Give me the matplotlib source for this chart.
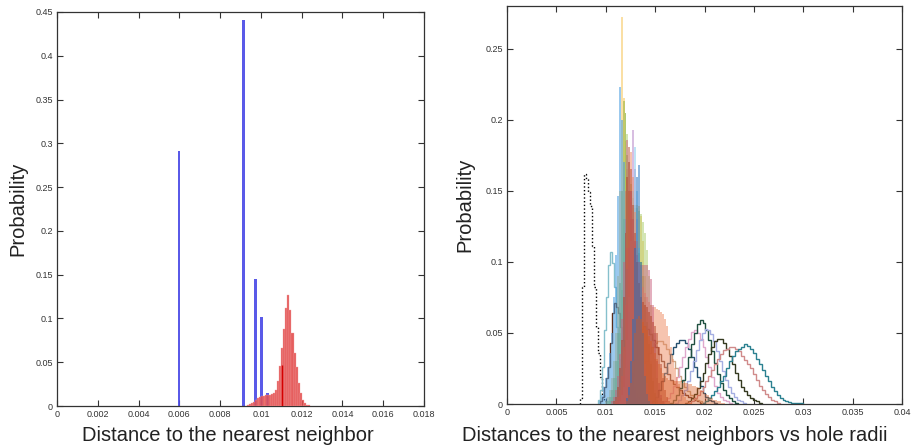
import numpy as np
import matplotlib
matplotlib.use("Agg")
import matplotlib.pyplot as plt

plt.rcParams['font.family'] = ['Liberation Sans', 'DejaVu Sans']

# ---------------- left panel: single configuration ----------------
left_xticks = [0, 0.002, 0.004, 0.006, 0.008, 0.01, 0.012, 0.014, 0.016, 0.018]
left_xticklabels = ["0", "0.002", "0.004", "0.006", "0.008", "0.01", "0.012", "0.014", "0.016", "0.018"]
left_yticks = [0, 0.05, 0.1, 0.15, 0.2, 0.25, 0.3, 0.35, 0.4, 0.45]
left_yticklabels = ["0", "0.05", "0.1", "0.15", "0.2", "0.25", "0.3", "0.35", "0.4", "0.45"]

# lattice distances (discrete)
lattice_dist = [0.0060, 0.00915, 0.00973, 0.01003, 0.01032]
lattice_prob = [0.291, 0.441, 0.145, 0.102, 0.0145]

# perturbed distances, histogram with bin width 1e-4 starting at 0.0093
perturbed_start = 0.0093
perturbed_width = 0.0001
perturbed_prob = [0.001, 0.002, 0.003, 0.005, 0.007, 0.009, 0.010, 0.011, 0.0115, 0.012,
                  0.0125, 0.013, 0.014, 0.015, 0.018, 0.028, 0.046, 0.066, 0.088, 0.112,
                  0.127, 0.110, 0.083, 0.060, 0.045, 0.026, 0.0145, 0.007, 0.003, 0.0015,
                  0.0008]
perturbed_mean = 0.01102
perturbed_mean_height = 0.047

# ---------------- right panel: distances vs hole radii ----------------
right_xticks = [0, 0.005, 0.01, 0.015, 0.02, 0.025, 0.03, 0.035, 0.04]
right_xticklabels = ["0", "0.005", "0.01", "0.015", "0.02", "0.025", "0.03", "0.035", "0.04"]
right_yticks = [0, 0.05, 0.1, 0.15, 0.2, 0.25]
right_yticklabels = ["0", "0.05", "0.1", "0.15", "0.2", "0.25"]

# filled histograms, bin width 2e-4: (start edge, probabilities)
fill_width = 0.0002
fill_orange_start = 0.0121
fill_orange = [0.002, 0.006, 0.015, 0.030, 0.050, 0.060, 0.062, 0.060, 0.058, 0.055,
               0.052, 0.048, 0.044, 0.040, 0.036, 0.032, 0.028, 0.025, 0.022, 0.020,
               0.018, 0.017, 0.016, 0.016, 0.016, 0.016, 0.016, 0.016, 0.015, 0.015,
               0.015, 0.014, 0.014, 0.013, 0.013, 0.012, 0.011, 0.010, 0.009, 0.008,
               0.007, 0.006, 0.005, 0.004, 0.003, 0.003, 0.002, 0.002, 0.001, 0.001]
fill_salmon_start = 0.0109
fill_salmon = [0.002, 0.005, 0.010, 0.020, 0.040, 0.070, 0.110, 0.150, 0.177, 0.160,
               0.135, 0.115, 0.100, 0.090, 0.082, 0.078, 0.075, 0.072, 0.070, 0.068,
               0.068, 0.067, 0.066, 0.065, 0.063, 0.060, 0.055, 0.048, 0.040, 0.032,
               0.025, 0.019, 0.014, 0.010, 0.007, 0.005, 0.003, 0.002, 0.001]
fill_mauve_start = 0.0105
fill_mauve = [0.002, 0.005, 0.010, 0.020, 0.035, 0.060, 0.100, 0.150, 0.186, 0.170,
              0.150, 0.130, 0.115, 0.105, 0.100, 0.098, 0.098, 0.098, 0.098, 0.094,
              0.088, 0.070, 0.050, 0.030, 0.015, 0.006, 0.002]
fill_red_start = 0.0107
fill_red = [0.002, 0.005, 0.012, 0.025, 0.045, 0.075, 0.120, 0.160, 0.181, 0.165,
            0.140, 0.120, 0.100, 0.085, 0.075, 0.072, 0.070, 0.068, 0.065, 0.062,
            0.058, 0.055, 0.050, 0.040, 0.028, 0.018, 0.010, 0.005, 0.002]
fill_blue_start = 0.0093
fill_blue = [0.002, 0.006, 0.012, 0.018, 0.026, 0.036, 0.050, 0.075, 0.105, 0.146,
             0.223, 0.200, 0.170, 0.130, 0.095, 0.065, 0.040, 0.022, 0.010, 0.004,
             0.001]
fill_yellow_start = 0.0099
fill_yellow = [0.002, 0.005, 0.010, 0.018, 0.030, 0.050, 0.090, 0.150, 0.272, 0.215,
               0.185, 0.165, 0.150, 0.142, 0.138, 0.138, 0.140, 0.139, 0.132, 0.115,
               0.090, 0.065, 0.045, 0.030, 0.018, 0.010, 0.005, 0.002]
fill_olive_start = 0.0101
fill_olive = [0.002, 0.005, 0.010, 0.018, 0.030, 0.050, 0.085, 0.150, 0.213, 0.205,
              0.175, 0.150, 0.130, 0.118, 0.110, 0.108, 0.106, 0.100, 0.090, 0.075,
              0.058, 0.042, 0.028, 0.016, 0.008, 0.003]
fill_green_start = 0.0103
fill_green = [0.002, 0.005, 0.010, 0.018, 0.030, 0.050, 0.080, 0.130, 0.205, 0.190,
              0.170, 0.155, 0.145, 0.140, 0.138, 0.136, 0.134, 0.128, 0.120, 0.108,
              0.090, 0.070, 0.050, 0.032, 0.018, 0.009, 0.004, 0.002]
fill_purple_start = 0.0111
fill_purple = [0.002, 0.005, 0.010, 0.020, 0.040, 0.070, 0.110, 0.150, 0.193, 0.165,
               0.130, 0.095, 0.065, 0.042, 0.025, 0.014, 0.007, 0.003, 0.001]
fill_sky_start = 0.0113
fill_sky = [0.002, 0.006, 0.012, 0.025, 0.045, 0.075, 0.115, 0.150, 0.181, 0.150,
            0.110, 0.075, 0.048, 0.028, 0.015, 0.007, 0.003]
fill_midblue_start = 0.0121
fill_midblue = [0.004, 0.012, 0.030, 0.060, 0.110, 0.160, 0.168, 0.100, 0.050, 0.020,
                0.007, 0.002]

# outline histograms near the lattice spacing, bin width 2e-4
narrow_width = 0.0002
line_dotted_start = 0.0074
line_dotted = [0.004, 0.082, 0.162, 0.158, 0.149, 0.139, 0.111, 0.082, 0.054, 0.036,
               0.019, 0.006, 0.002]
line_lightteal_start = 0.0092
line_lightteal = [0.003, 0.010, 0.026, 0.052, 0.075, 0.098, 0.107, 0.099, 0.082, 0.054,
                  0.032, 0.016, 0.007, 0.003, 0.001]
line_darkbrown_start = 0.0094
line_darkbrown = [0.002, 0.005, 0.012, 0.018, 0.026, 0.043, 0.064, 0.071, 0.068, 0.064,
                  0.054, 0.045, 0.038, 0.032, 0.027, 0.022, 0.017, 0.012, 0.008, 0.005,
                  0.003, 0.001]

# outline histograms for larger hole radii, bin width 3e-4
wide_width = 0.0003
line_brown_start = 0.0120
line_brown = [0.003, 0.010, 0.020, 0.032, 0.045, 0.053, 0.055, 0.053, 0.049, 0.045,
              0.040, 0.035, 0.030, 0.026, 0.021, 0.017, 0.014, 0.012, 0.010, 0.008,
              0.006, 0.005, 0.004, 0.003, 0.002, 0.001]
line_tan_start = 0.0125
line_tan = [0.003, 0.007, 0.012, 0.018, 0.024, 0.030, 0.036, 0.040, 0.043, 0.044,
            0.044, 0.042, 0.039, 0.035, 0.030, 0.025, 0.020, 0.016, 0.012, 0.009,
            0.006, 0.004, 0.003, 0.002, 0.001]
line_navy_start = 0.0147
line_navy = [0.002, 0.005, 0.010, 0.016, 0.022, 0.029, 0.035, 0.040, 0.043, 0.045,
             0.045, 0.043, 0.039, 0.033, 0.026, 0.019, 0.013, 0.008, 0.005, 0.003,
             0.002, 0.001]
line_pink_start = 0.0159
line_pink = [0.002, 0.004, 0.008, 0.013, 0.019, 0.026, 0.033, 0.040, 0.046, 0.051,
             0.052, 0.050, 0.046, 0.040, 0.033, 0.026, 0.019, 0.013, 0.008, 0.005,
             0.003, 0.002, 0.001]
line_green_start = 0.0165
line_green = [0.001, 0.003, 0.006, 0.011, 0.017, 0.025, 0.033, 0.042, 0.050, 0.056,
              0.059, 0.057, 0.052, 0.045, 0.037, 0.029, 0.021, 0.015, 0.010, 0.006,
              0.004, 0.002, 0.001]
line_lavender_start = 0.0170
line_lavender = [0.001, 0.003, 0.006, 0.010, 0.016, 0.023, 0.030, 0.038, 0.045, 0.050,
                 0.053, 0.052, 0.049, 0.044, 0.037, 0.030, 0.023, 0.017, 0.012, 0.008,
                 0.005, 0.003, 0.002, 0.001]
line_olive_start = 0.0180
line_olive = [0.001, 0.002, 0.004, 0.007, 0.011, 0.016, 0.022, 0.029, 0.035, 0.040,
              0.044, 0.046, 0.046, 0.043, 0.039, 0.034, 0.028, 0.022, 0.017, 0.012,
              0.009, 0.006, 0.004, 0.003, 0.002, 0.001]
line_rose_start = 0.0183
line_rose = [0.001, 0.002, 0.004, 0.006, 0.009, 0.012, 0.016, 0.020, 0.024, 0.028,
             0.032, 0.035, 0.038, 0.039, 0.040, 0.040, 0.039, 0.037, 0.034, 0.031,
             0.028, 0.025, 0.021, 0.017, 0.013, 0.010, 0.007, 0.005, 0.003, 0.002,
             0.001]
line_teal_start = 0.0198
line_teal = [0.001, 0.002, 0.004, 0.006, 0.009, 0.012, 0.016, 0.020, 0.025, 0.030,
             0.034, 0.037, 0.039, 0.040, 0.042, 0.041, 0.039, 0.036, 0.032, 0.028,
             0.024, 0.020, 0.016, 0.012, 0.009, 0.006, 0.004, 0.003, 0.002, 0.0015,
             0.001, 0.001, 0.0008, 0.0006]


def bin_edges(start, width, values):
    return start + width * np.arange(len(values) + 1)


def style_axes(ax, xticks, xlabels, yticks, ylabels):
    ax.set_xticks(xticks)
    ax.set_xticklabels(xlabels)
    ax.set_yticks(yticks)
    ax.set_yticklabels(ylabels)
    ax.tick_params(direction='in', length=4, width=0.8, top=True, right=True,
                   labelsize=6.5, labelcolor='#333333', color='#333333', pad=3)
    for s in ax.spines.values():
        s.set_color('#333333')
        s.set_linewidth(0.9)


fig = plt.figure(figsize=(9.15, 4.48), dpi=100)

# ---- left panel ----
axl = fig.add_axes([57 / 915, 42 / 448, 367 / 915, 394 / 448])
axl.bar(lattice_dist, lattice_prob, width=0.00011, color='#4c4ce6', alpha=0.92,
        linewidth=0, zorder=2)
e = bin_edges(perturbed_start, perturbed_width, perturbed_prob)
axl.bar(e[:-1], perturbed_prob, width=perturbed_width, align='edge',
        color='#e03a3a', alpha=0.82, edgecolor='#f2a0a0', linewidth=0.3, zorder=3)
axl.vlines(perturbed_mean, 0, perturbed_mean_height, color='#d40000', lw=1.0, zorder=4)
axl.set_xlim(0, 0.018)
axl.set_ylim(0, 0.45)
style_axes(axl, left_xticks, left_xticklabels, left_yticks, left_yticklabels)
axl.set_xlabel("Distance to the nearest neighbor", fontsize=14.5, color='#222222')
axl.xaxis.set_label_coords(0.465, -0.05)
axl.set_ylabel("Probability", fontsize=14.5, color='#222222', labelpad=6)

# ---- right panel ----
axr = fig.add_axes([507 / 915, 44 / 448, 395 / 915, 398 / 448])

outlines_narrow = [
    (line_dotted_start, line_dotted, '#000000', ':'),
    (line_lightteal_start, line_lightteal, '#86c0cc', '-'),
    (line_darkbrown_start, line_darkbrown, '#5a2d1c', '-'),
]
for start, vals, col, ls in outlines_narrow:
    axr.stairs(vals, bin_edges(start, narrow_width, vals), color=col, ls=ls,
               lw=1.0, baseline=0, zorder=2)

outlines_wide = [
    (line_brown_start, line_brown, '#7a4535'),
    (line_tan_start, line_tan, '#c9a585'),
    (line_navy_start, line_navy, '#25506e'),
    (line_pink_start, line_pink, '#e0a8cc'),
    (line_green_start, line_green, '#1f5040'),
    (line_lavender_start, line_lavender, '#a4aee2'),
    (line_olive_start, line_olive, '#34391f'),
    (line_rose_start, line_rose, '#d08a8a'),
    (line_teal_start, line_teal, '#2a8090'),
]
for start, vals, col in outlines_wide:
    axr.stairs(vals, bin_edges(start, wide_width, vals), color=col,
               lw=1.0, baseline=0, zorder=2)

fills = [
    (fill_yellow_start, fill_yellow, '#f7c04a', 0.5),
    (fill_green_start, fill_green, '#a8cc6a', 0.5),
    (fill_olive_start, fill_olive, '#8fb030', 0.5),
    (fill_blue_start, fill_blue, '#4a9ee0', 0.55),
    (fill_purple_start, fill_purple, '#b27fc4', 0.5),
    (fill_sky_start, fill_sky, '#7fc8ee', 0.5),
    (fill_salmon_start, fill_salmon, '#ee8a60', 0.5),
    (fill_mauve_start, fill_mauve, '#c8607e', 0.5),
    (fill_red_start, fill_red, '#b03a20', 0.45),
    (fill_midblue_start, fill_midblue, '#1f6fbf', 0.5),
    (fill_orange_start, fill_orange, '#d9581c', 0.4),
]
for start, vals, col, a in fills:
    axr.stairs(vals, bin_edges(start, fill_width, vals), fill=True, color=col,
               alpha=a, lw=0, zorder=3)

axr.set_xlim(0, 0.04)
axr.set_ylim(0, 0.28)
style_axes(axr, right_xticks, right_xticklabels, right_yticks, right_yticklabels)
axr.set_xlabel("Distances to the nearest neighbors vs hole radii", fontsize=14.5,
               color='#222222')
axr.xaxis.set_label_coords(0.424, -0.055)
axr.set_ylabel("Probability", fontsize=14.5, color='#222222', labelpad=8)

fig.savefig("out.png", dpi=100)
